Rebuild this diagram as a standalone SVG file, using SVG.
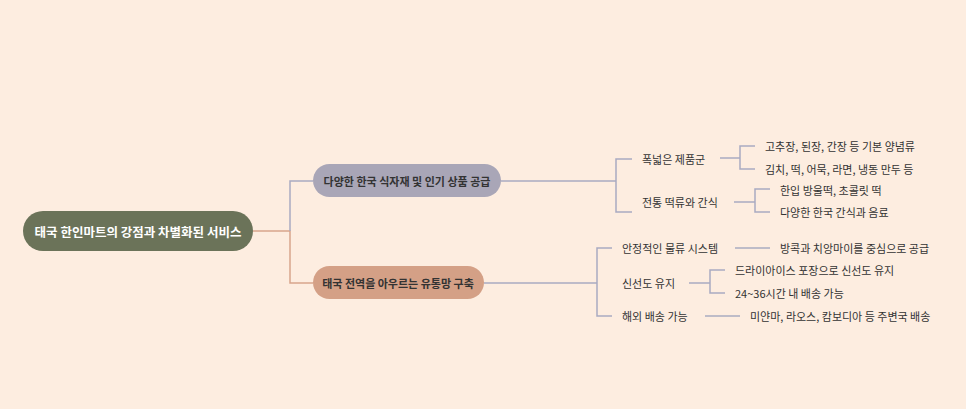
<svg xmlns="http://www.w3.org/2000/svg" width="966" height="409" viewBox="0 0 966 409">
<style>
text{font-family:"Noto Sans CJK KR","Noto Sans",sans-serif;fill:#333;dominant-baseline:central}
.leaf{font-size:11px}
.c{fill:none;stroke:#a9abc1;stroke-width:1.5}
.o{fill:none;stroke:#d8a58c;stroke-width:1.5}
</style>
<rect width="966" height="409" fill="#fdede0"/>
<g id="connectors">
<path class="o" d="M253 231H290V283H313"/>
<path class="c" d="M290 231V181H313"/>
<path class="c" d="M501 181H616M632 159H616V212H632"/>
<path class="c" d="M720 158H740M755 146H740V169H755"/>
<path class="c" d="M734 202H755M770 189H755V212H770"/>
<path class="c" d="M484 283H597M612 248H597V316H612"/>
<path class="c" d="M735 248H770"/>
<path class="c" d="M689 283H710M725 270H710V293H725"/>
<path class="c" d="M705 316H740"/>
</g>
<g id="root"><rect x="23" y="211" width="230" height="40" rx="20" fill="#6b7359"/><text x="138" y="231" text-anchor="middle" font-size="12.5" font-weight="bold" style="fill:#fff">태국 한인마트의 강점과 차별화된 서비스</text></g>
<g id="n1"><rect x="313" y="164" width="188" height="33" rx="16.5" fill="#a9a6b7"/><text x="407" y="181" text-anchor="middle" font-size="11" font-weight="bold">다양한 한국 식자재 및 인기 상품 공급</text></g>
<g id="n2"><rect x="313" y="266" width="171" height="33" rx="16.5" fill="#d4a086"/><text x="398" y="283" text-anchor="middle" font-size="11" font-weight="bold">태국 전역을 아우르는 유통망 구축</text></g>
<g id="l1"><text class="leaf" x="642" y="159">폭넓은 제품군</text></g>
<g id="l2"><text class="leaf" x="642" y="202">전통 떡류와 간식</text></g>
<g id="l3"><text class="leaf" x="765" y="146">고추장, 된장, 간장 등 기본 양념류</text></g>
<g id="l4"><text class="leaf" x="765" y="169">김치, 떡, 어묵, 라면, 냉동 만두 등</text></g>
<g id="l5"><text class="leaf" x="780" y="190">한입 방울떡, 초콜릿 떡</text></g>
<g id="l6"><text class="leaf" x="780" y="212">다양한 한국 간식과 음료</text></g>
<g id="l7"><text class="leaf" x="622" y="248">안정적인 물류 시스템</text></g>
<g id="l8"><text class="leaf" x="622" y="283">신선도 유지</text></g>
<g id="l9"><text class="leaf" x="622" y="316">해외 배송 가능</text></g>
<g id="l10"><text class="leaf" x="780" y="248">방콕과 치앙마이를 중심으로 공급</text></g>
<g id="l11"><text class="leaf" x="735" y="270">드라이아이스 포장으로 신선도 유지</text></g>
<g id="l12"><text class="leaf" x="735" y="293">24~36시간 내 배송 가능</text></g>
<g id="l13"><text class="leaf" x="750" y="316">미얀마, 라오스, 캄보디아 등 주변국 배송</text></g>
</svg>
